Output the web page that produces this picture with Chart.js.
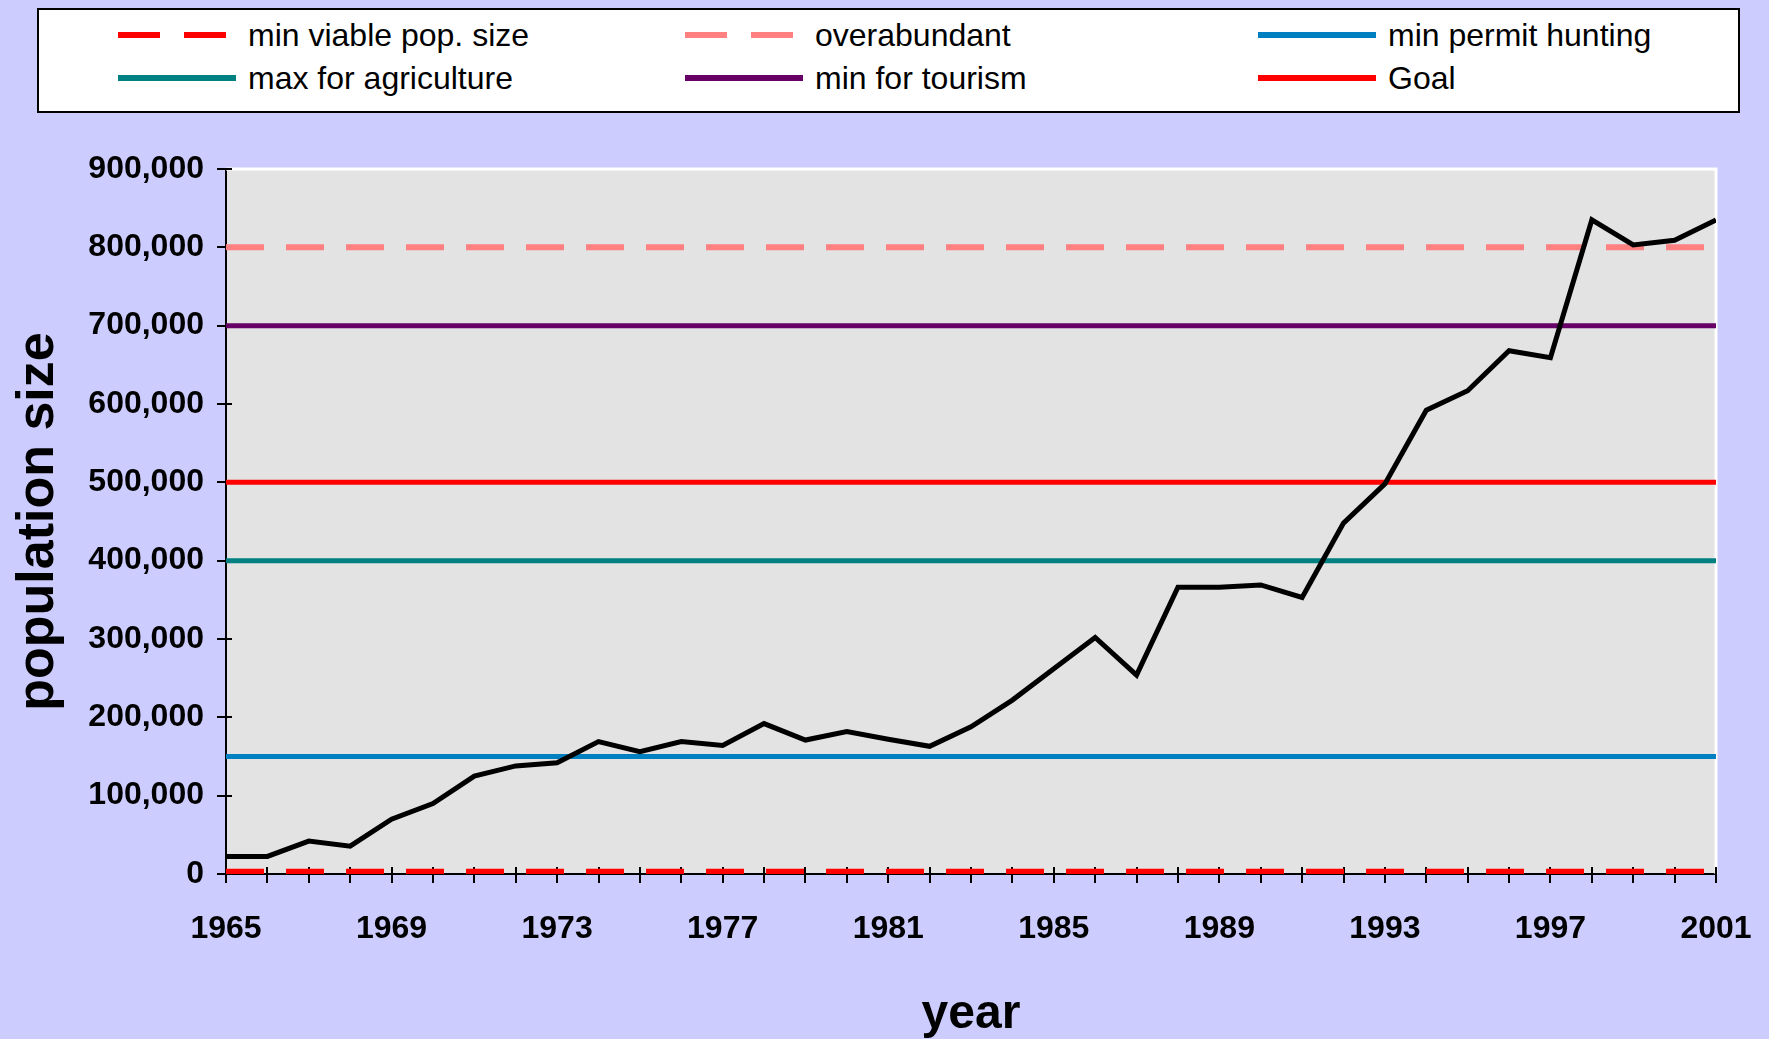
<!DOCTYPE html>
<html>
<head>
<meta charset="utf-8">
<title>population size</title>
<script src="https://cdn.jsdelivr.net/npm/chart.js@4.4.1/dist/chart.umd.min.js"></script>
<style>
  html, body { margin: 0; padding: 0; background: #CCCCFF; }
  #wrap { position: relative; width: 1769px; height: 1039px; }
  #legend {
    position: absolute; left: 37px; top: 8px; width: 1699px; height: 101px;
    background: #fff; border: 2px solid #000;
    font-family: "Liberation Sans", Arial, sans-serif; font-size: 32px; color: #000;
  }
  .item { position: absolute; height: 40px; display: flex; align-items: center; white-space: nowrap; }
  .item svg { margin-right: 12px; }
</style>
</head>
<body>
<div id="wrap">
  <canvas id="myChart" width="1769" height="1039"></canvas>
  <div id="legend"></div>
</div>
<script>
const years = [1965, 1966, 1967, 1968, 1969, 1970, 1971, 1972, 1973, 1974,
  1975, 1976, 1977, 1978, 1979, 1980, 1981, 1982, 1983, 1984,
  1985, 1986, 1987, 1988, 1989, 1990, 1991, 1992, 1993, 1994,
  1995, 1996, 1997, 1998, 1999, 2000, 2001];

const population = [22500, 22500, 42000, 35500, 70000, 90000, 125000, 138000, 142000, 169000,
  156000, 169000, 164000, 192000, 171000, 182000, 172000, 163000, 188000, 222000,
  262000, 302000, 254000, 366000, 366000, 369000, 353000, 448000, 498000, 592000,
  617000, 668000, 659000, 835000, 803000, 809000, 835000];

// reference levels, in legend order
const refNames = ["min viable pop. size", "overabundant", "min permit hunting",
  "max for agriculture", "min for tourism", "Goal"];
const refValues = [3000, 800000, 150000, 400000, 700000, 500000];
const refColors = ["#FF0000", "#FF8080", "#0080C0", "#008080", "#660066", "#FF0000"];
const refDashed = [true, true, false, false, false, false];

const yTicks = [0, 100000, 200000, 300000, 400000, 500000, 600000, 700000, 800000, 900000];
const xLabelYears = [1965, 1969, 1973, 1977, 1981, 1985, 1989, 1993, 1997, 2001];

const dash = [38, 22];

const datasets = [{
  label: "population",
  data: years.map((y, i) => ({ x: y, y: population[i] })),
  borderColor: "#000000",
  borderWidth: 5,
  pointRadius: 0,
  tension: 0,
  noLegend: true
}];
refNames.forEach((name, i) => {
  datasets.push({
    label: name,
    data: [{ x: years[0], y: refValues[i] }, { x: years[years.length - 1], y: refValues[i] }],
    borderColor: refColors[i],
    borderWidth: refDashed[i] ? 6 : 5,
    borderDash: refDashed[i] ? dash : [],
    borderCapStyle: "butt",
    pointRadius: 0
  });
});

const plotBg = {
  id: "plotBg",
  beforeDraw(chart) {
    const { ctx, chartArea: a } = chart;
    ctx.save();
    ctx.fillStyle = "#E3E3E3";
    ctx.fillRect(a.left, a.top, a.right - a.left, a.bottom - a.top);
    ctx.restore();
  },
  beforeDatasetsDraw(chart) {
    const { ctx, chartArea: a } = chart;
    ctx.save();
    ctx.strokeStyle = "#FFFFFF";
    ctx.lineWidth = 3;
    ctx.beginPath();
    ctx.moveTo(a.left, a.top);
    ctx.lineTo(a.right, a.top);
    ctx.lineTo(a.right, a.bottom);
    ctx.stroke();
    // tick marks cross the axes a little
    const xs = chart.scales.x, ys = chart.scales.y;
    ctx.strokeStyle = "#000";
    ctx.lineWidth = 2;
    ctx.beginPath();
    xs.ticks.forEach(t => {
      const px = Math.round(xs.getPixelForValue(t.value));
      ctx.moveTo(px, a.bottom);
      ctx.lineTo(px, a.bottom - 7);
    });
    ys.ticks.forEach(t => {
      const py = Math.round(ys.getPixelForValue(t.value));
      ctx.moveTo(a.left, py);
      ctx.lineTo(a.left + 6, py);
    });
    ctx.stroke();
    ctx.restore();
  }
};

const ctx = document.getElementById("myChart").getContext("2d");
const chart = new Chart(ctx, {
  type: "line",
  data: { datasets: datasets },
  plugins: [plotBg],
  options: {
    responsive: false,
    animation: false,
    layout: { padding: { top: 169, right: 53, left: 0, bottom: 0 } },
    plugins: { legend: { display: false }, tooltip: { enabled: false } },
    scales: {
      x: {
        type: "linear",
        min: years[0],
        max: years[years.length - 1],
        afterFit(scale) {
          scale.height = 165;
          scale.paddingLeft = 0;
          scale.paddingRight = 0;
        },
        border: { color: "#000", width: 2 },
        grid: { drawOnChartArea: false, color: "#000", lineWidth: 2, tickLength: 9 },
        ticks: {
          stepSize: 1,
          autoSkip: false,
          maxRotation: 0,
          padding: 27,
          color: "#000",
          font: { family: "'Liberation Sans', Arial, sans-serif", size: 32, weight: "bold" },
          callback: v => xLabelYears.includes(v) ? String(v) : ""
        },
        title: {
          display: true,
          text: "year",
          color: "#000",
          padding: { top: 0, bottom: 0 },
          font: { family: "'Liberation Sans', Arial, sans-serif", size: 48, weight: "bold", lineHeight: 1.0 }
        }
      },
      y: {
        min: yTicks[0],
        max: yTicks[yTicks.length - 1],
        afterFit(scale) { scale.width = 226; },
        afterBuildTicks(scale) { scale.ticks = yTicks.map(v => ({ value: v })); },
        border: { color: "#000", width: 2 },
        grid: { drawOnChartArea: false, color: "#000", lineWidth: 2, tickLength: 9 },
        ticks: {
          padding: 13,
          color: "#000",
          font: { family: "'Liberation Sans', Arial, sans-serif", size: 32, weight: "bold" },
          callback: v => v.toLocaleString("en-US")
        },
        title: {
          display: true,
          text: "population size",
          color: "#000",
          padding: { top: 7, bottom: 0 },
          font: { family: "'Liberation Sans', Arial, sans-serif", size: 52, weight: "bold" }
        }
      }
    }
  }
});

// html legend, three columns x two rows
const colX = [79, 646, 1219];
const rowY = [5, 48];
const legend = document.getElementById("legend");
chart.data.datasets.filter(d => !d.noLegend).forEach((d, i) => {
  const item = document.createElement("div");
  item.className = "item";
  item.style.left = colX[i % 3] + "px";
  item.style.top = rowY[Math.floor(i / 3)] + "px";
  const dashAttr = d.borderDash && d.borderDash.length ? ' stroke-dasharray="42 24"' : "";
  item.innerHTML = '<svg width="118" height="10"><line x1="0" y1="5" x2="118" y2="5" stroke="' +
    d.borderColor + '" stroke-width="6"' + dashAttr + '/></svg><span>' + d.label + '</span>';
  legend.appendChild(item);
});
</script>
</body>
</html>
